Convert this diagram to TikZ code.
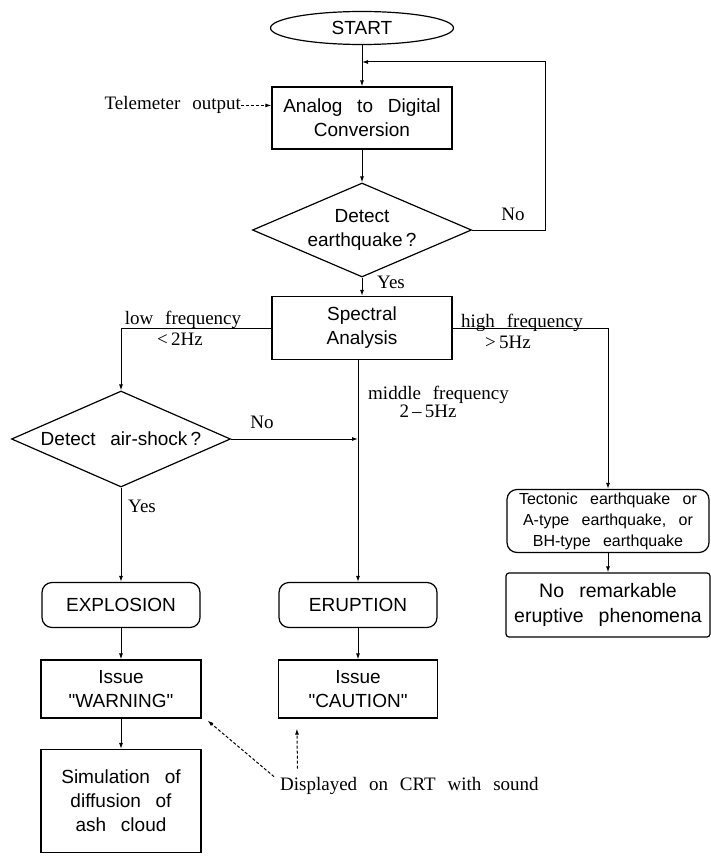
\documentclass[tikz,border=0pt]{standalone}
\usepackage{fontspec}
\usepackage{tikz}
\usetikzlibrary{shapes,arrows,arrows.meta,positioning}

\newfontfamily\boxfont[WordSpace=2.8]{Liberation Sans}
\newfontfamily\labelfont[WordSpace=2.5]{Liberation Serif}

\begin{document}
\begin{tikzpicture}[x=1pt,y=-1pt,
  >={Latex[length=6pt,width=4pt]},
  conn/.style={line width=1pt},
  dashconn/.style={conn, dash pattern=on 3pt off 2pt},
  procbox/.style={shape=rectangle, draw=black, line width=1.2pt, align=center, inner sep=2pt,
    font=\boxfont\fontsize{19}{24}\selectfont},
  termbox/.style={procbox, rounded corners=10pt},
  decbox/.style={procbox, shape=diamond, inner sep=0pt},
  lbltext/.style={font=\labelfont\fontsize{19}{21}\selectfont, inner sep=0pt, anchor=base}]

\useasboundingbox (0,0) rectangle (711,856);

% Detection loop
\node [shape=ellipse, draw=black, line width=1.2pt, minimum width=183pt, minimum height=33pt, inner sep=0pt, font=\boxfont\fontsize{19}{24}\selectfont] at (362,28) (start) {START};
\node [procbox, minimum width=180pt, minimum height=62pt] at (362,118) (ad_conv) {Analog to Digital\\Conversion};
\node [decbox, aspect=2.33, minimum width=219pt, minimum height=94pt] at (362,230) (detect_eq) {Detect\\earthquake\,?};
\node [procbox, minimum width=180pt, minimum height=63pt] at (362,328) (spec) {Spectral\\Analysis};
\coordinate (loop_join) at (362,62);

\node [lbltext, anchor=base east] at (241,110) (telem) {Telemeter output};
\node [lbltext] at (513,220) (no_eq) {No};
\node [lbltext, anchor=base west] at (377,288) (yes_eq) {Yes};

\draw [conn,->] (start) -- (ad_conv);
\draw [dashconn,->] (telem.east) -- (telem.east -| ad_conv.west);
\draw [conn,->] (ad_conv) -- (detect_eq);
\draw [conn,->] (detect_eq.east) -- ++(73,0) |- (loop_join);
\draw [conn,->] (detect_eq) -- (spec);

% Frequency branches
\node [lbltext] at (183,324) (low_freq) {low frequency};
\node [lbltext] at (180,345) (low_hz) {<\,2Hz};
\node [lbltext] at (522,327) (high_freq) {high frequency};
\node [lbltext] at (508,348) (high_hz) {>\,5Hz};
\node [lbltext, anchor=base west] at (368,399) (mid_freq) {middle frequency};
\node [lbltext] at (428,417) (mid_hz) {2\,–\,5Hz};

\node [decbox, aspect=2.28, minimum width=219pt, minimum height=96pt] at (121,439) (detect_air) {Detect air-shock\,?};
\node [lbltext] at (262,428) (no_air) {No};
\node [lbltext, anchor=base west] at (128,512) (yes_air) {Yes};

\node [termbox, minimum width=158pt, minimum height=45pt] at (121,605) (explosion) {EXPLOSION};
\node [termbox, minimum width=158pt, minimum height=45pt] at (358,605) (eruption) {ERUPTION};
\node [termbox, minimum width=202pt, minimum height=63pt, font=\boxfont\fontsize{16}{21}\selectfont] at (608,521) (tectonic) {Tectonic earthquake or\\A-type earthquake, or\\BH-type earthquake};
\node [procbox, rounded corners=3pt, minimum width=204pt, minimum height=64pt, font=\boxfont\fontsize{19.5}{25}\selectfont] at (608,605) (no_erupt) {No remarkable\\eruptive phenomena};

\draw [conn,->] (spec.west) -| (detect_air.north);
\draw [conn,->] (spec.east) -| (tectonic.north);
\draw [conn,->] (spec.south -| eruption.north) -- (eruption.north);
\draw [conn,->] (detect_air.east) -- (detect_air.east -| eruption.north);
\draw [conn,->] (detect_air) -- (explosion);
\draw [conn,->] (tectonic) -- (no_erupt);

% Alarms
\node [procbox, minimum width=160pt, minimum height=58pt] at (121,689) (warning) {Issue\\"WARNING"};
\node [procbox, minimum width=159pt, minimum height=58pt] at (358,689) (caution) {Issue\\"CAUTION"};
\node [procbox, minimum width=160pt, minimum height=103pt] at (121,801) (ash_sim) {Simulation of\\diffusion of\\ash cloud};
\node [lbltext, anchor=base west] at (280,790) (crt_msg) {Displayed on CRT with sound};

\draw [conn,->] (explosion) -- (warning);
\draw [conn,->] (warning) -- (ash_sim);
\draw [conn,->] (eruption) -- (caution);
\draw [dashconn,->] ([xshift=-6pt]crt_msg.north west) -- ([shift={(6pt,-2pt)}]warning.south east);
\draw [dashconn,->] ([shift={(17.5pt,8pt)}]crt_msg.north west) -- ([shift={(19pt,-10pt)}]caution.south west);

\end{tikzpicture}
\end{document}
